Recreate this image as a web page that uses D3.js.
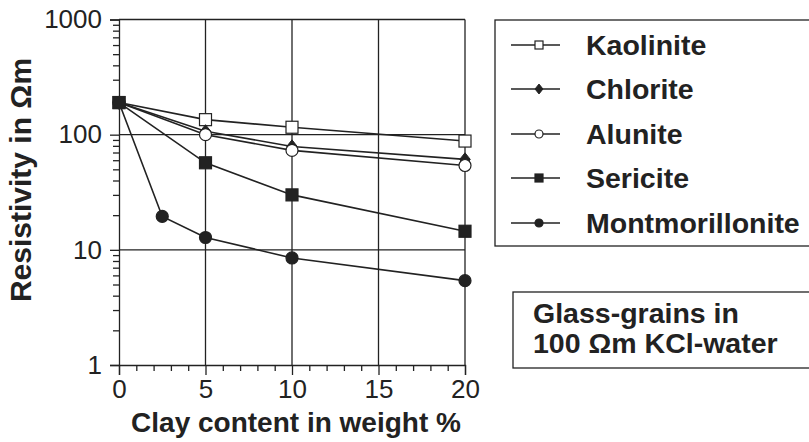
<!DOCTYPE html>
<html>
<head>
<meta charset="utf-8">
<script src="https://cdn.jsdelivr.net/npm/d3@7/dist/d3.min.js"></script>
<style>
  html, body { margin: 0; padding: 0; background: #fff; }
  svg { display: block; }
  text { font-family: "Liberation Sans", Arial, Helvetica, sans-serif; fill: #222; }
</style>
</head>
<body>
<svg id="chart" width="809" height="442"></svg>
<script>
// Clay content (weight %) for each measurement
const clayContent = [0, 5, 10, 20];
const montClay = [0, 2.5, 5, 10, 20];

// Resistivity (Ωm) per clay mineral
const kaolinite = [190, 135, 116, 88];
const chlorite = [190, 107, 79, 61];
const alunite = [190, 100, 73, 54];
const sericite = [190, 57, 30, 14.5];
const montmorillonite = [190, 19.5, 12.8, 8.5, 5.4];

const seriesNames = ["Kaolinite", "Chlorite", "Alunite", "Sericite", "Montmorillonite"];
const seriesSymbols = ["openSquare", "diamond", "openCircle", "square", "circle"];

const xTicks = [0, 5, 10, 15, 20];
const yTicks = [1, 10, 100, 1000];
const xGrid = [5, 10, 15, 20];
const yGrid = [10, 100, 1000];

const noteLines = ["Glass-grains in", "100 Ωm KCl-water"];

const series = [
  { name: seriesNames[0], sym: seriesSymbols[0], x: clayContent, y: kaolinite },
  { name: seriesNames[1], sym: seriesSymbols[1], x: clayContent, y: chlorite },
  { name: seriesNames[2], sym: seriesSymbols[2], x: clayContent, y: alunite },
  { name: seriesNames[3], sym: seriesSymbols[3], x: clayContent, y: sericite },
  { name: seriesNames[4], sym: seriesSymbols[4], x: montClay, y: montmorillonite }
];

const ink = "#222";
const svg = d3.select("#chart");

const x = d3.scaleLinear().domain([0, 20]).range([119, 465]);
const y = d3.scaleLog().domain([1, 1000]).range([365, 19.5]);

// grid
const grid = svg.append("g").attr("stroke", ink).attr("stroke-width", 1.3);
grid.selectAll("line.vx").data(xGrid).join("line")
  .attr("x1", d => x(d)).attr("x2", d => x(d))
  .attr("y1", y(1)).attr("y2", y(1000));
grid.selectAll("line.hy").data(yGrid).join("line")
  .attr("x1", x(0)).attr("x2", x(20))
  .attr("y1", d => y(d)).attr("y2", d => y(d));

// y axis with log minor ticks
const minorY = [];
for (let dec = 1; dec < 1000; dec *= 10) for (let k = 2; k <= 9; k++) minorY.push(dec * k);

svg.append("g").attr("transform", `translate(${x(0)},0)`)
  .call(d3.axisLeft(y).tickValues(yTicks).tickFormat(d3.format("d")).tickSize(9).tickPadding(8));
svg.append("g").attr("transform", `translate(${x(0)},0)`)
  .call(d3.axisLeft(y).tickValues(minorY).tickFormat("").tickSize(6))
  .call(g => g.select(".domain").remove());

// x axis with unit minor ticks
svg.append("g").attr("transform", `translate(0,${y(1)})`)
  .call(d3.axisBottom(x).tickValues(xTicks).tickSize(10).tickPadding(5));
svg.append("g").attr("transform", `translate(0,${y(1)})`)
  .call(d3.axisBottom(x).tickValues(d3.range(1, 20).filter(v => v % 5 !== 0)).tickFormat("").tickSize(6))
  .call(g => g.select(".domain").remove());

svg.selectAll(".domain").attr("stroke", ink).attr("stroke-width", 1.3);
svg.selectAll(".tick line").attr("stroke", ink).attr("stroke-width", 1.3);
svg.selectAll(".tick text").attr("font-size", 26).attr("fill", ink)
  .style("font-family", "'Liberation Sans', Arial, sans-serif");

// axis titles
svg.append("text")
  .attr("x", 296).attr("y", 432)
  .attr("text-anchor", "middle").attr("font-size", 28).attr("font-weight", "bold")
  .text("Clay content in weight %");
svg.append("text")
  .attr("transform", "translate(31,180) rotate(-90)")
  .attr("text-anchor", "middle").attr("font-size", 30).attr("font-weight", "bold")
  .text("Resistivity in Ωm");

// marker drawing
function drawSymbol(g, sym, cx, cy, s) {
  if (sym === "openSquare" || sym === "square") {
    g.append("rect").attr("x", cx - s / 2).attr("y", cy - s / 2).attr("width", s).attr("height", s)
      .attr("fill", sym === "square" ? ink : "#fff").attr("stroke", ink).attr("stroke-width", 1.2);
  } else if (sym === "openCircle" || sym === "circle") {
    g.append("circle").attr("cx", cx).attr("cy", cy).attr("r", s / 2)
      .attr("fill", sym === "circle" ? ink : "#fff").attr("stroke", ink).attr("stroke-width", 1.2);
  } else if (sym === "diamond") {
    const h = s * 0.55;
    g.append("path").attr("d", `M${cx},${cy - h}L${cx + h * 0.8},${cy}L${cx},${cy + h}L${cx - h * 0.8},${cy}Z`)
      .attr("fill", ink).attr("stroke", ink).attr("stroke-width", 1);
  }
}

const line = d3.line().x(d => x(d[0])).y(d => y(d[1]));
const plot = svg.append("g");
series.forEach(s => {
  const pts = s.x.map((v, i) => [v, s.y[i]]);
  plot.append("path").datum(pts).attr("d", line)
    .attr("fill", "none").attr("stroke", ink).attr("stroke-width", 1.6);
});
series.forEach(s => {
  const g = plot.append("g");
  s.x.forEach((v, i) => drawSymbol(g, s.sym, x(v), y(s.y[i]), s.sym === "diamond" ? 12 : 12));
});

// legend
const legend = svg.append("g");
legend.append("rect").attr("x", 495).attr("y", 20).attr("width", 330).attr("height", 226)
  .attr("fill", "none").attr("stroke", ink).attr("stroke-width", 1.3);
const rowY = [45, 89, 134, 178, 223];
series.forEach((s, i) => {
  const cy = rowY[i];
  legend.append("line").attr("x1", 511).attr("x2", 560).attr("y1", cy).attr("y2", cy)
    .attr("stroke", ink).attr("stroke-width", 1.3);
  drawSymbol(legend, s.sym, 539, cy, s.sym === "diamond" ? 9 : 8);
  legend.append("text").attr("x", 586).attr("y", cy + 10)
    .attr("font-size", 28.5).attr("font-weight", "bold").text(s.name);
});

// note box
const note = svg.append("g");
note.append("rect").attr("x", 513).attr("y", 292).attr("width", 310).attr("height", 76)
  .attr("fill", "none").attr("stroke", ink).attr("stroke-width", 1.3);
noteLines.forEach((t, i) => {
  note.append("text").attr("x", 533).attr("y", 323 + i * 30)
    .attr("font-size", 28.5).attr("font-weight", "bold").text(t);
});
</script>
</body>
</html>
